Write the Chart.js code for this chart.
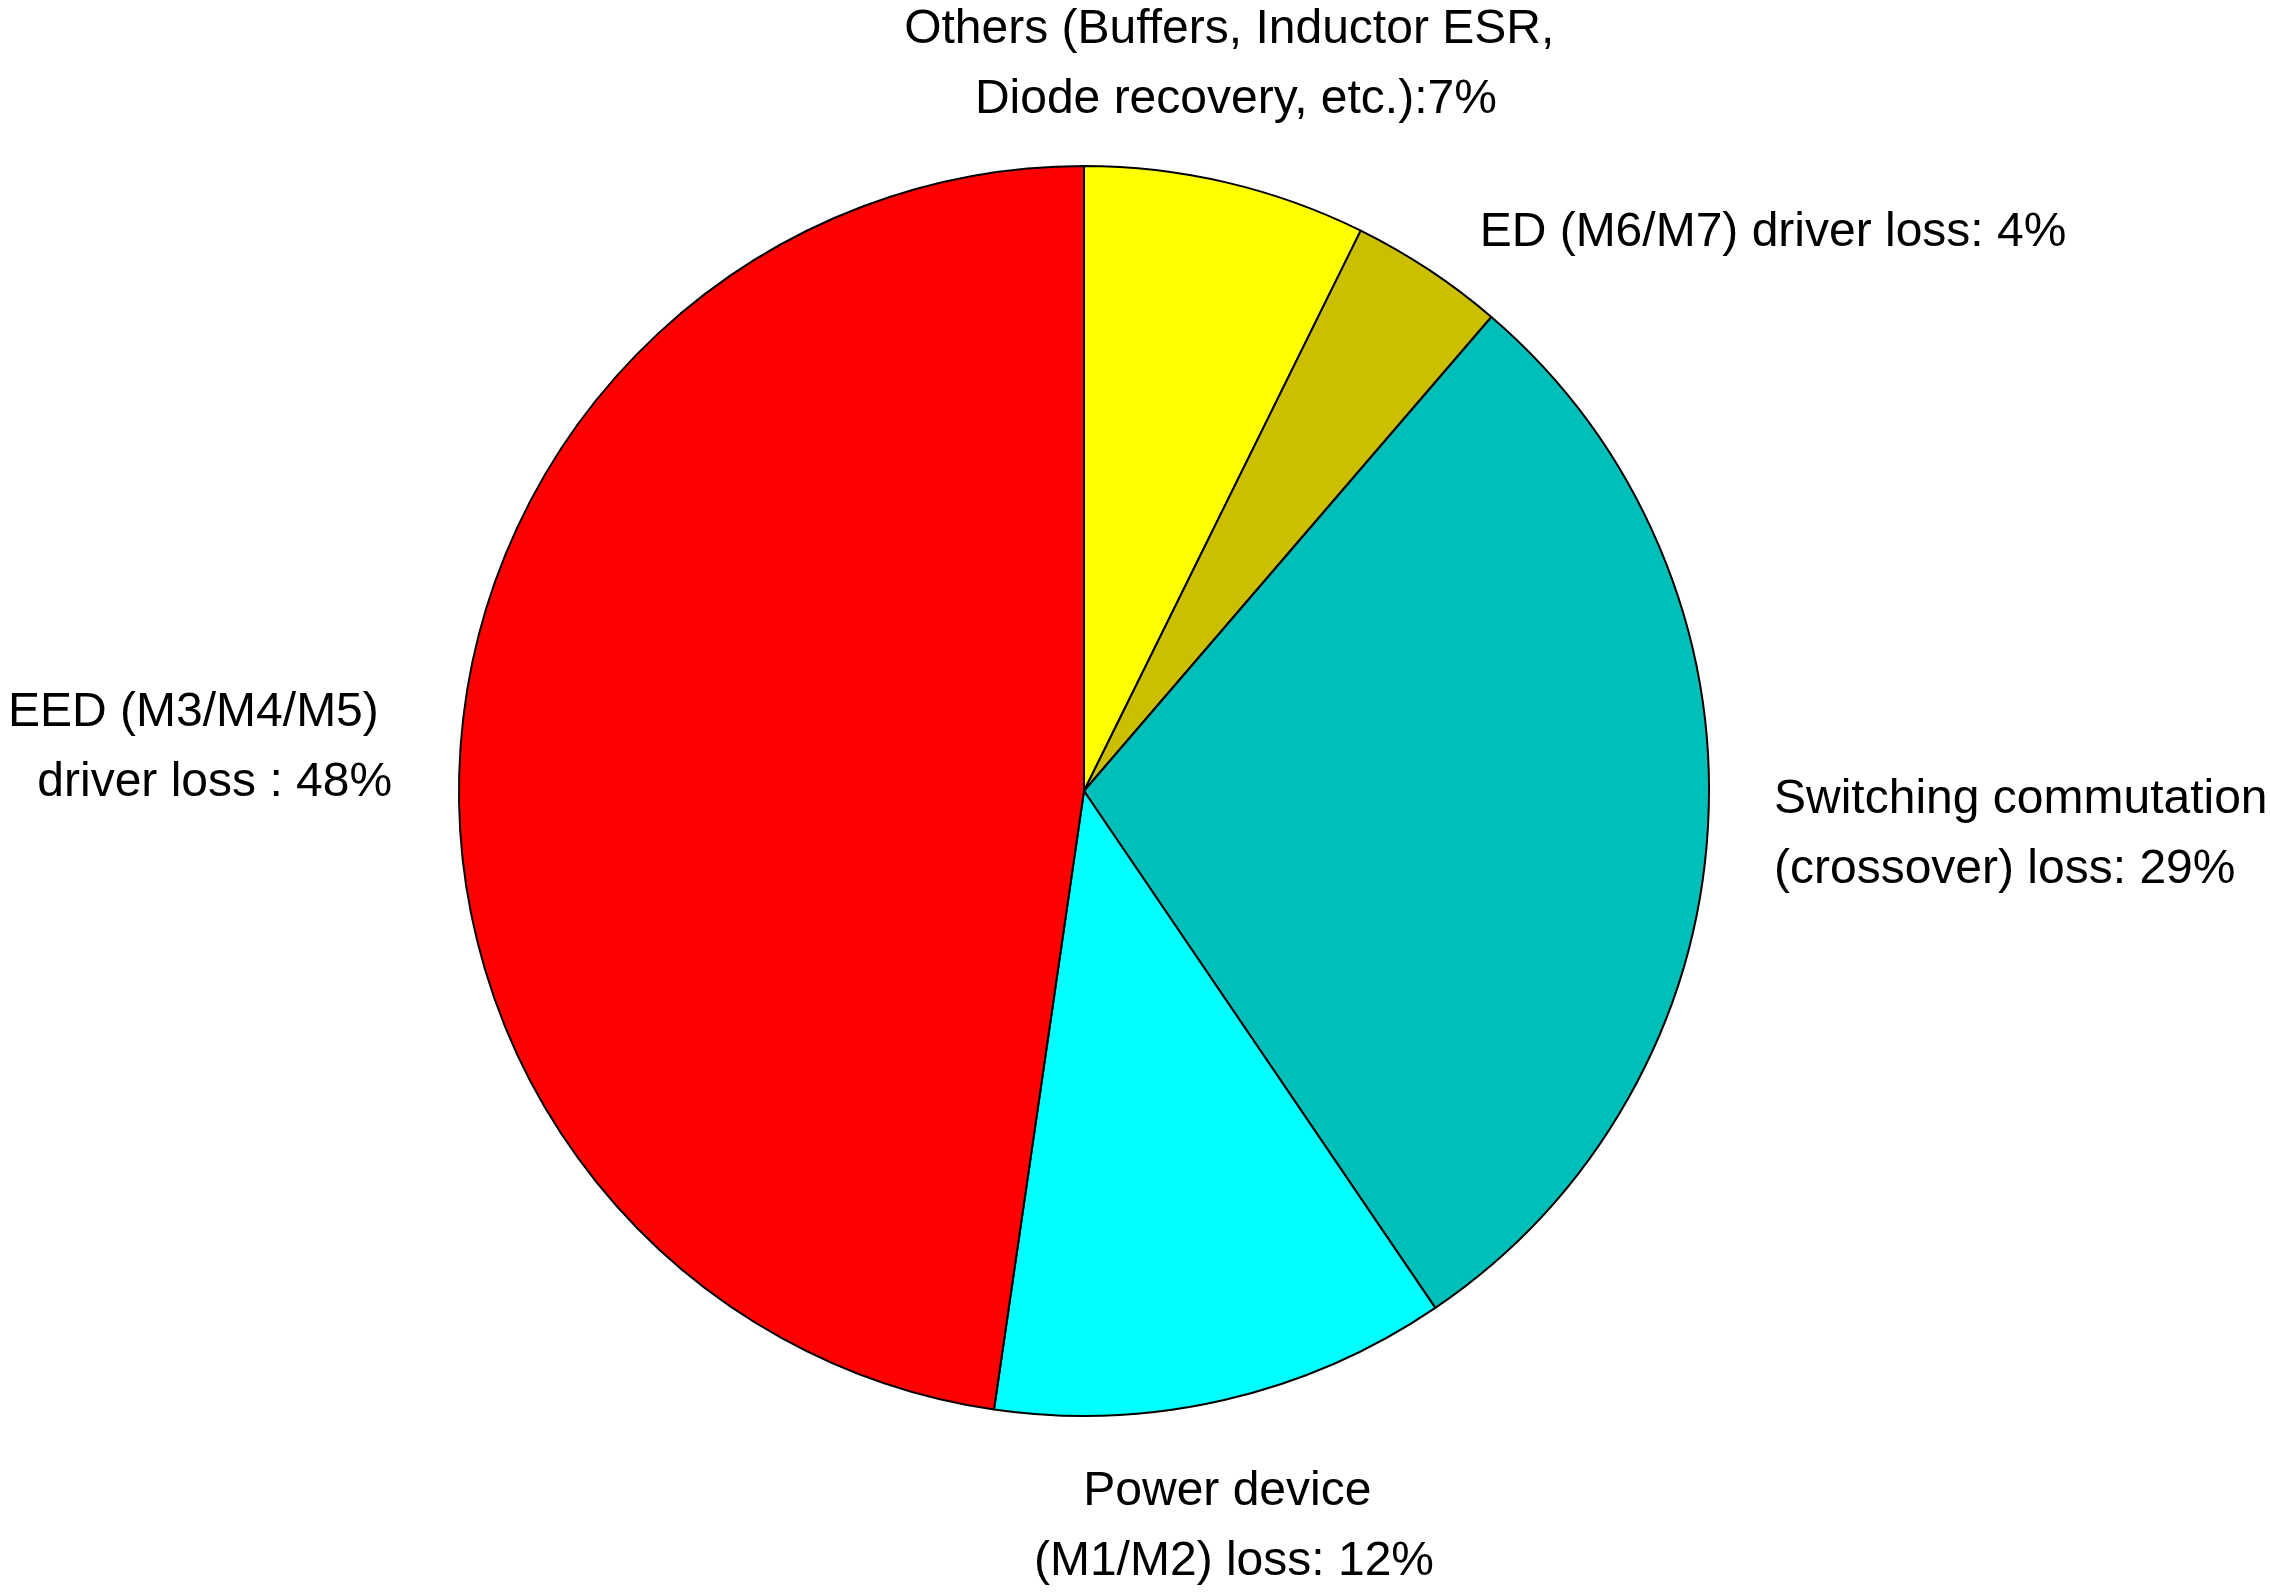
<!DOCTYPE html>
<html>
<head>
<meta charset="utf-8">
<script src="https://cdn.jsdelivr.net/npm/chart.js@4/dist/chart.umd.min.js"></script>
<style>
  html, body { margin: 0; padding: 0; background: #ffffff; }
  #wrap { width: 2270px; height: 1593px; }
</style>
</head>
<body>
<div id="wrap"><canvas id="c" width="2270" height="1593"></canvas></div>
<script>
// ---- data ----
const categories = [
  "Others",
  "ED (M6/M7) driver loss",
  "Switching commutation (crossover) loss",
  "Power device (M1/M2) loss",
  "EED (M3/M4/M5) driver loss"
];
const values = [7.3, 4.0, 29.2, 11.8, 47.7];
const labelLines = [
  ["Others (Buffers, Inductor ESR, ", "Diode recovery, etc.):7%"],
  ["ED (M6/M7) driver loss: 4%"],
  ["Switching commutation", "(crossover) loss: 29%"],
  ["Power device ", "(M1/M2) loss: 12%"],
  ["EED (M3/M4/M5) ", "driver loss : 48%"]
];

// ---- styles / layout ----
const sliceColors = ["#FFFF00", "#CCBF00", "#00BFB9", "#00FFFF", "#FF0000"];
// label anchor, in units of pie radius relative to the pie centre
const labelAnchor = [
  { dx: 0.243, dy: -1.162, align: "center" },
  { dx: 0.633, dy: -0.893, align: "left" },
  { dx: 1.104, dy: 0.070, align: "left" },
  { dx: 0.240, dy: 1.177, align: "center" },
  { dx: -1.107, dy: -0.069, align: "right" }
];
const fontSize = 48;
const lineGap = 70;

const labelPlugin = {
  id: "pieLabels",
  afterDraw(chart) {
    const meta = chart.getDatasetMeta(0);
    const arc0 = meta.data[0];
    const cx = arc0.x, cy = arc0.y, r = arc0.outerRadius;
    const ctx = chart.ctx;
    ctx.save();
    ctx.fillStyle = "#000";
    ctx.font = fontSize + "px 'Liberation Sans', Arial, Helvetica, sans-serif";
    ctx.textBaseline = "middle";
    labelLines.forEach((lines, i) => {
      const a = labelAnchor[i];
      const x = cx + a.dx * r;
      const y0 = cy + a.dy * r - (lines.length - 1) * lineGap / 2;
      ctx.textAlign = a.align;
      lines.forEach((t, k) => ctx.fillText(t, x, y0 + k * lineGap));
    });
    ctx.restore();
  }
};

new Chart(document.getElementById("c"), {
  type: "pie",
  data: {
    labels: categories,
    datasets: [{
      data: values,
      backgroundColor: sliceColors,
      borderColor: "#000000",
      borderWidth: 2
    }]
  },
  options: {
    responsive: false,
    animation: false,
    layout: { padding: { left: 458, right: 560, top: 165, bottom: 176 } },
    plugins: {
      legend: { display: false },
      tooltip: { enabled: false }
    }
  },
  plugins: [labelPlugin]
});
</script>
</body>
</html>
